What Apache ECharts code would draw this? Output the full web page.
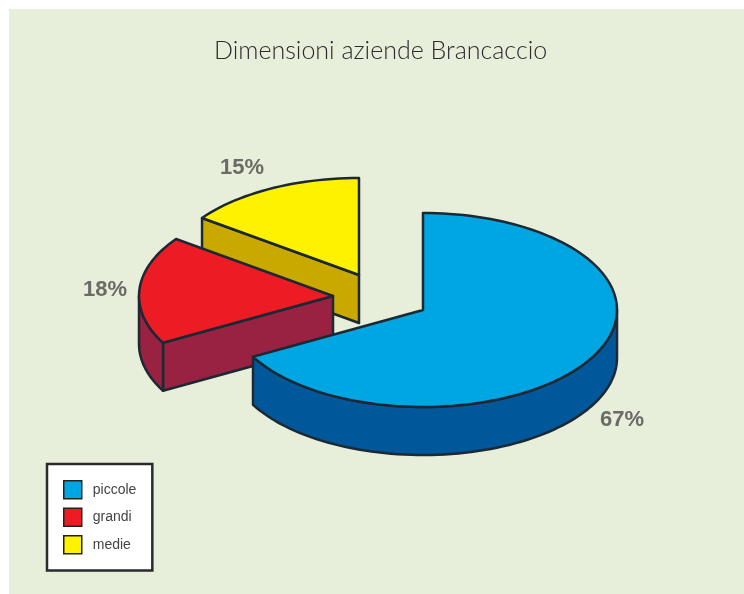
<!DOCTYPE html>
<html>
<head>
<meta charset="utf-8">
<title>Dimensioni aziende Brancaccio</title>
<script src="https://cdn.jsdelivr.net/npm/echarts@6/dist/echarts.min.js"></script>
<style>
    html, body { margin: 0; padding: 0; background: #fff; }
    #chart { width: 744px; height: 594px; }
</style>
</head>
<body>
<div id="chart"></div>
<script>
const chartTitle = 'Dimensioni aziende Brancaccio'
const categories = ['piccole', 'grandi', 'medie']
const values = [67, 18, 15]

const topColors = ['#00a6e2', '#ed1c24', '#fff200']
const sideColors = ['#00589b', '#992243', '#c9a800']
const strokeColor = '#1c2833'

// the slices are pulled apart by hand, same as in the original drawing
const centers = [[423, 310], [333, 296], [359, 275]]
const labelAnchors = [[622, 420], [105, 290], [242, 168]]
const rx = 194
const ry = 97
const depth = 48

const total = values.reduce((a, b) => a + b, 0)

function rimPoint(c, deg, dy) {
    let a = deg * Math.PI / 180
    return [c[0] + rx * Math.sin(a), c[1] - ry * Math.cos(a) + (dy || 0)]
}

function arcPoints(c, from, to, dy) {
    let pts = []
    let steps = Math.max(2, Math.ceil(Math.abs(to - from) / 2))
    for (let i = 0; i <= steps; i++) {
        pts.push(rimPoint(c, from + (to - from) * i / steps, dy))
    }
    return pts
}

function polygon(points, fill) {
    return {
        type: 'polygon',
        shape: { points: points },
        style: { fill: fill, stroke: strokeColor, lineWidth: 2.5, lineJoin: 'round' }
    }
}

function makeRenderItem(idx) {
    return function (params, api) {
        let before = values.slice(0, idx).reduce((a, b) => a + b, 0)
        let start = before / total * 360
        let end = start + api.value(0) / total * 360
        let c = centers[idx]
        let below = [c[0], c[1] + depth]
        let children = []

        // cut face, only the ones turned to the viewer
        if (start > 180 && start < 360) {
            children.push(polygon([c, rimPoint(c, start), rimPoint(c, start, depth), below], sideColors[idx]))
        }
        if (end > 0 && end < 180) {
            children.push(polygon([c, rimPoint(c, end), rimPoint(c, end, depth), below], sideColors[idx]))
        }

        // outer wall, front half of the ellipse only
        let wallFrom = Math.max(start, 90)
        let wallTo = Math.min(end, 270)
        if (wallFrom < wallTo) {
            let upper = arcPoints(c, wallFrom, wallTo)
            let lower = arcPoints(c, wallFrom, wallTo, depth).reverse()
            children.push(polygon(upper.concat(lower), sideColors[idx]))
        }

        children.push(polygon([c].concat(arcPoints(c, start, end)), topColors[idx]))

        children.push({
            type: 'text',
            x: labelAnchors[idx][0],
            y: labelAnchors[idx][1],
            style: {
                text: api.value(0) + '%',
                fill: '#6a6b66',
                font: 'bold 22px "Liberation Sans"',
                align: 'center',
                verticalAlign: 'middle'
            }
        })
        return { type: 'group', children: children }
    }
}

let myChart = echarts.init(document.getElementById('chart'))

let options = {
    animation: false,
    graphic: [{
        type: 'rect',
        z: -10,
        shape: { x: 9, y: 9, width: 735, height: 585 },
        style: { fill: '#e7eed9' }
    }],
    title: {
        text: chartTitle,
        left: 214,
        top: 38,
        padding: 0,
        textStyle: {
            fontFamily: 'Lato',
            fontWeight: 300,
            fontSize: 25,
            color: '#2b2b2b'
        }
    },
    legend: {
        orient: 'vertical',
        left: 47,
        top: 464,
        data: categories,
        icon: 'rect',
        itemWidth: 18,
        itemHeight: 18,
        itemGap: 8,
        padding: [16, 16, 16, 16],
        backgroundColor: '#fff',
        borderColor: '#2a2a2a',
        borderWidth: 2.5,
        selectedMode: false,
        itemStyle: { borderColor: '#222', borderWidth: 1.5 },
        textStyle: {
            fontFamily: 'Liberation Sans',
            fontSize: 14,
            color: '#444',
            padding: [0, 0, 0, 6]
        }
    },
    series: categories.map((name, i) => ({
        type: 'custom',
        name: name,
        coordinateSystem: 'none',
        silent: true,
        z: 3 - i,
        itemStyle: { color: topColors[i] },
        data: [[values[i]]],
        renderItem: makeRenderItem(i)
    }))
}

options && myChart.setOption(options)
</script>
</body>
</html>
